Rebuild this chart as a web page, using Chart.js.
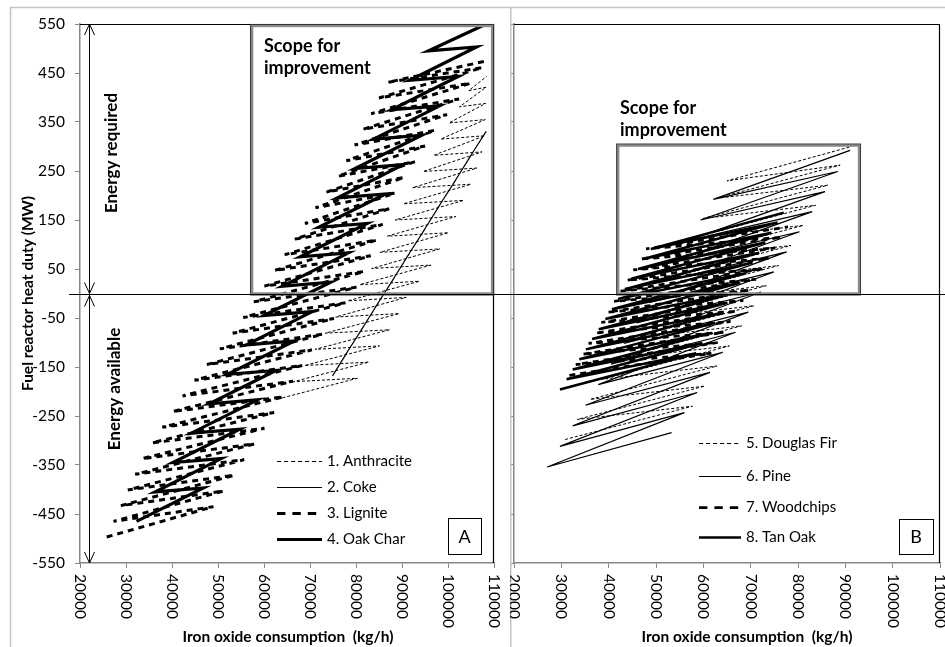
<!DOCTYPE html>
<html lang="en">
<head>
<meta charset="UTF-8">
<script src="https://cdn.jsdelivr.net/npm/chart.js@4.4.0/dist/chart.umd.min.js"></script>
<title>Fuel reactor heat duty</title>
<style>
    body { margin: 0; background: #fff; }
    #wrap { position: relative; width: 945px; height: 647px; overflow: hidden; }
    #boxA { position: absolute; left: 0; top: 0; width: 510px; height: 647px; }
    #boxB { position: absolute; left: 510px; top: 0; width: 435px; height: 647px; }
</style>
</head>
<body>
<div id="wrap">
    <div id="boxA"><canvas id="chartA"></canvas></div>
    <div id="boxB"><canvas id="chartB"></canvas></div>
</div>
<script>
    // axis ticks
    var xTicks = [20000, 30000, 40000, 50000, 60000, 70000, 80000, 90000, 100000, 110000];
    var yTicks = [-550, -450, -350, -250, -150, -50, 50, 150, 250, 350, 450, 550];

    var labelsA = ['1. Anthracite', '2. Coke', '3. Lignite', '4. Oak Char'];
    var labelsB = ['5. Douglas Fir', '6. Pine', '7. Woodchips', '8. Tan Oak'];

    // panel A  [iron oxide kg/h, heat duty MW]
    var anthracite = [
        [64000,-213],[80300,-173],[66400,-180],[82800,-140],[68800,-147],[85100,-107],[71100,-114],[87300,-74],
        [73300,-81],[89400,-41],[75600,-48],[90900,-8],[78200,-15],[93800,25],[80800,18],[96300,58],
        [83400,51],[98200,91],[85200,84],[100100,124],[86800,117],[101700,157],[88500,150],[103400,190],
        [90300,183],[105000,223],[92300,216],[106300,256],[94600,249],[107400,289],[96900,282],[108000,322],
        [98400,315],[108100,355],[100200,348],[108200,388],[102500,381],[108300,421],[104500,414],[108400,443]
    ];
    var coke = [
        [74900,-168],[78200,-118],[77500,-128],[81600,-68],[80900,-78],[84900,-18],[84200,-28],[88300,32],[87600,22],
        [91600,82],[90900,72],[95000,132],[94300,122],[98300,182],[97600,172],[101700,232],[101000,222],
        [105000,282],[104300,272],[108300,331]
    ];
    var lignite = [
        [25800,-497],[49000,-435],[27300,-465],[51200,-403],[28900,-433],[53500,-371],[30400,-401],[55700,-339],
        [32000,-369],[57900,-307],[33500,-337],[60100,-275],[35600,-305],[62200,-243],[37900,-273],[64200,-211],
        [40100,-241],[66300,-179],[42300,-209],[68300,-147],[44900,-177],[70400,-115],[47600,-145],[72800,-83],
        [50400,-113],[75200,-51],[53200,-81],[77700,-19],[55500,-49],[80100,13],[57800,-17],[81800,45],
        [60100,15],[83200,77],[62300,47],[84500,109],[64500,79],[85800,141],[66700,111],[87200,173],
        [68900,143],[88500,205],[71200,175],[90500,237],[73600,207],[92800,269],[76000,239],[95000,301],
        [77900,271],[97200,333],[79700,303],[99800,365],[81500,335],[102400,397],[83300,367],[104900,429],
        [85000,399],[107500,461],[86900,431],[108600,475]
    ];
    var oakChar = [
        [32300,-465],[46800,-397],[36300,-405],[50700,-337],[40200,-345],[54700,-277],[44200,-285],[58600,-217],
        [48100,-225],[62600,-157],[52100,-165],[66600,-97],[56100,-105],[70500,-37],[60000,-45],[74500,23],
        [64000,15],[78400,83],[67900,75],[82400,143],[71900,135],[86400,203],[75900,195],[90300,263],
        [79800,255],[94300,323],[83800,315],[98200,383],[87700,375],[102200,443],[91700,435],[106200,503],
        [95700,495],[108300,550]
    ];

    // panel B
    var douglasFir = [
        [30800,-298],[57700,-230],[33400,-257],[60300,-189],[36100,-216],[62900,-148],[38700,-175],[65500,-107],
        [41400,-134],[68100,-66],[44000,-93],[70700,-25],[46700,-52],[73300,16],[49300,-11],[75900,57],
        [52000,30],[78500,98],[54600,71],[81100,139],[57300,112],[83700,180],[59900,153],[86300,221],
        [62600,194],[88900,262],[65000,230],[91300,300]
    ];
    var pine = [
        [53300,-284],[27000,-354],[56000,-243],[29700,-312],[58700,-202],[32400,-270],[61400,-161],[35100,-228],
        [64100,-120],[37800,-186],[66800,-79],[40500,-144],[69500,-38],[43200,-102],[72200,3],[45900,-60],
        [74900,44],[48600,-18],[77600,85],[51300,24],[80300,126],[54000,66],[83000,167],[56700,108],
        [85700,208],[59400,150],[88400,249],[62100,192],[91000,292]
    ];
    var woodchips = [
        [31700,-167],[61700,-122],[33050,-145],[63050,-100],[34400,-124],[64400,-79],[35750,-102],[65750,-57],
        [37100,-81],[67100,-36],[38450,-59],[68450,-14],[39800,-38],[69800,7],[41150,-16],[71150,29],
        [42500,5],[72500,50],[43850,27],[73850,72],[45200,48],[75200,93],[46550,70],[76550,115],
        [47900,91],[77900,136]
    ];
    var tanOak = [
        [29700,-196],[58500,-122],[31100,-175],[59800,-101],[32400,-155],[61200,-81],[33800,-134],[62500,-60],
        [35200,-114],[63800,-40],[36500,-93],[65100,-19],[37900,-73],[66500,1],[39300,-52],[67800,22],
        [40700,-32],[69100,42],[42000,-11],[70400,63],[43400,9],[71800,83],[44800,30],[73100,104],
        [46200,50],[74400,124],[47500,71],[75700,145],[48900,91],[77000,165]
    ];

    var FONT = "Lato, 'Open Sans', sans-serif";
    Chart.defaults.font.family = FONT;
    Chart.defaults.color = '#000';

    function ds(label, pts, w, dash, order) {
        return {
            label: label,
            data: pts.map(function (p) { return {x: p[0], y: p[1]}; }),
            showLine: true, borderColor: '#000', backgroundColor: '#000',
            borderWidth: w, borderDash: dash, pointRadius: 0, tension: 0, fill: false,
            order: order
        };
    }

    // everything drawn around the data: frame, box, arrows, legend, labels
    var decor = {
        id: 'decor',
        afterDraw: function (chart, args, o) {
            var ctx = chart.ctx, xs = chart.scales.x, ys = chart.scales.y, a = chart.chartArea;
            ctx.save();

            ctx.strokeStyle = '#c4c4c4'; ctx.lineWidth = 1.5;
            ctx.beginPath();
            o.frame.forEach(function (p, i) { if (i) ctx.lineTo(p[0], p[1]); else ctx.moveTo(p[0], p[1]); });
            ctx.stroke();

            ctx.strokeStyle = '#000'; ctx.lineWidth = 1.2;
            ctx.beginPath();
            ctx.moveTo(a.left, a.top + 0.5); ctx.lineTo(a.right - 0.5, a.top + 0.5); ctx.lineTo(a.right - 0.5, a.bottom);
            ctx.stroke();

            // scope for improvement box
            var bx0 = xs.getPixelForValue(o.box[0]), bx1 = xs.getPixelForValue(o.box[1]);
            var by0 = ys.getPixelForValue(o.box[3]), by1 = ys.getPixelForValue(o.box[2]);
            ctx.strokeStyle = '#8a8a8a'; ctx.lineWidth = 2.5;
            ctx.strokeRect(bx0, by0, bx1 - bx0, by1 - by0);
            ctx.strokeStyle = '#333'; ctx.lineWidth = 1;
            ctx.strokeRect(bx0 - 1.5, by0 - 1.5, bx1 - bx0 + 3, by1 - by0 + 3);
            ctx.fillStyle = '#000';
            ctx.font = 'bold 18px ' + FONT; ctx.textAlign = 'left'; ctx.textBaseline = 'alphabetic';
            o.scope.forEach(function (s) { ctx.fillText(s[2], s[0], s[1]); });

            // zero line across the panel
            var y0 = Math.round(ys.getPixelForValue(0)) + 0.5;
            ctx.strokeStyle = '#000'; ctx.lineWidth = 1.2;
            ctx.beginPath(); ctx.moveTo(o.zeroFrom, y0); ctx.lineTo(chart.width, y0); ctx.stroke();

            if (o.arrowX) {
                var ax = Math.round(xs.getPixelForValue(o.arrowX)) + 0.5;
                var yt = ys.getPixelForValue(550), yb = ys.getPixelForValue(-550);
                ctx.lineWidth = 1;
                ctx.beginPath(); ctx.moveTo(ax, yt); ctx.lineTo(ax, yb); ctx.stroke();
                [[yt, 1], [y0 - 1, -1], [y0 + 1, 1], [yb, -1]].forEach(function (h) {
                    ctx.beginPath();
                    ctx.moveTo(ax - 5, h[0] + h[1] * 11); ctx.lineTo(ax, h[0]); ctx.lineTo(ax + 5, h[0] + h[1] * 11);
                    ctx.stroke();
                });
                ctx.font = 'bold 17px ' + FONT; ctx.textAlign = 'center'; ctx.textBaseline = 'middle';
                o.vtext.forEach(function (t) {
                    ctx.save(); ctx.translate(t[0], t[1]); ctx.rotate(-Math.PI / 2);
                    ctx.fillText(t[2], 0, 0); ctx.restore();
                });
            }

            // legend
            ctx.font = '15px ' + FONT; ctx.textAlign = 'left'; ctx.textBaseline = 'middle';
            ctx.strokeStyle = '#000';
            chart.data.datasets.forEach(function (d, i) {
                var y = o.legend.ys[i] + 0.5;
                ctx.setLineDash((d.borderDash || []).map(function (v) { return v * 1.4; }));
                ctx.lineWidth = d.borderWidth;
                ctx.beginPath(); ctx.moveTo(o.legend.x0, y); ctx.lineTo(o.legend.x1, y); ctx.stroke();
                ctx.setLineDash([]);
                ctx.fillText(d.label, o.legend.tx, y);
            });

            // panel tag
            ctx.lineWidth = 1; ctx.strokeStyle = '#000';
            ctx.strokeRect(o.tag.x + 0.5, o.tag.y + 0.5, o.tag.w, o.tag.h);
            ctx.font = '18px ' + FONT; ctx.textAlign = 'center';
            ctx.fillText(o.tag.t, o.tag.x + o.tag.w / 2, o.tag.y + o.tag.h / 2 + 1);

            // x tick labels, turned clockwise
            ctx.font = '15.5px ' + FONT; ctx.textAlign = 'left'; ctx.textBaseline = 'middle';
            xs.ticks.forEach(function (t) {
                var px = xs.getPixelForValue(t.value);
                ctx.save(); ctx.translate(px, a.bottom + 11); ctx.rotate(Math.PI / 2);
                ctx.fillText(String(t.value), 0, 0); ctx.restore();
            });
            ctx.font = 'bold 15.5px ' + FONT; ctx.textAlign = 'center';
            ctx.fillText('Iron oxide consumption  (kg/h)', o.xTitle[0], o.xTitle[1]);
            ctx.restore();
        }
    };

    function scales(showY, yWidth) {
        return {
            x: {
                type: 'linear', min: 20000, max: 110000,
                afterBuildTicks: function (s) { s.ticks = xTicks.map(function (v) { return {value: v}; }); },
                afterFit: function (s) { s.height = 84; },
                border: {color: '#868686', width: 1.5},
                grid: {display: true, drawOnChartArea: false, drawTicks: true, tickLength: 5, color: '#868686'},
                ticks: {display: false}
            },
            y: {
                type: 'linear', min: -550, max: 550,
                afterBuildTicks: function (s) { s.ticks = yTicks.map(function (v) { return {value: v}; }); },
                afterFit: function (s) { s.width = yWidth; },
                border: {color: '#868686', width: 1.5},
                grid: {display: true, drawOnChartArea: false, drawTicks: true, tickLength: 5, color: '#868686'},
                ticks: {display: showY, padding: 10, font: {size: 15.5}, color: '#000'},
                title: {display: showY, text: 'Fuel reactor heat duty (MW)', color: '#000',
                        font: {size: 15.5, weight: 'bold'}, padding: {top: 5, bottom: 0}}
            }
        };
    }

    new Chart(document.getElementById('chartA'), {
        type: 'scatter',
        data: {
            datasets: [
                ds(labelsA[0], anthracite, 1, [3, 2], 3),
                ds(labelsA[1], coke, 1.2, [], 2),
                ds(labelsA[2], lignite, 3, [6, 5], 1),
                ds(labelsA[3], oakChar, 3.2, [], 0)
            ]
        },
        options: {
            responsive: true, maintainAspectRatio: false, animation: false, events: [],
            layout: {padding: {left: 14, top: 24, right: 16, bottom: 0}},
            scales: scales(true, 66),
            plugins: {
                legend: {display: false}, tooltip: {enabled: false},
                decor: {
                    frame: [[10.5, 647], [10.5, 7.5], [510, 7.5]], zeroFrom: 69,
                    box: [57400, 109600, 0, 546],
                    scope: [[264, 52, 'Scope for'], [264, 74, 'improvement']],
                    arrowX: 21950,
                    vtext: [[112, 153, 'Energy required'], [115, 389, 'Energy available']],
                    legend: {x0: 277, x1: 322, tx: 327, ys: [461, 487, 513, 539]},
                    tag: {x: 448, y: 518, w: 33, h: 36, t: 'A'},
                    xTitle: [288, 637]
                }
            }
        },
        plugins: [decor]
    });

    new Chart(document.getElementById('chartB'), {
        type: 'scatter',
        data: {
            datasets: [
                ds(labelsB[0], douglasFir, 1, [3, 2], 3),
                ds(labelsB[1], pine, 1.2, [], 2),
                ds(labelsB[2], woodchips, 2.75, [6, 5], 1),
                ds(labelsB[3], tanOak, 2.5, [], 0)
            ]
        },
        options: {
            responsive: true, maintainAspectRatio: false, animation: false, events: [],
            layout: {padding: {left: 0, top: 24, right: 5, bottom: 0}},
            scales: scales(false, 4),
            plugins: {
                legend: {display: false}, tooltip: {enabled: false},
                decor: {
                    frame: [[0.75, 647], [0.75, 7.5], [435, 7.5]], zeroFrom: 0,
                    box: [42000, 92900, 0, 302],
                    scope: [[110, 114, 'Scope for'], [110, 136, 'improvement']],
                    legend: {x0: 189, x1: 231, tx: 236, ys: [443, 476, 507, 537]},
                    tag: {x: 389, y: 519, w: 34, h: 35, t: 'B'},
                    xTitle: [237, 637]
                }
            }
        },
        plugins: [decor]
    });
</script>
</body>
</html>
